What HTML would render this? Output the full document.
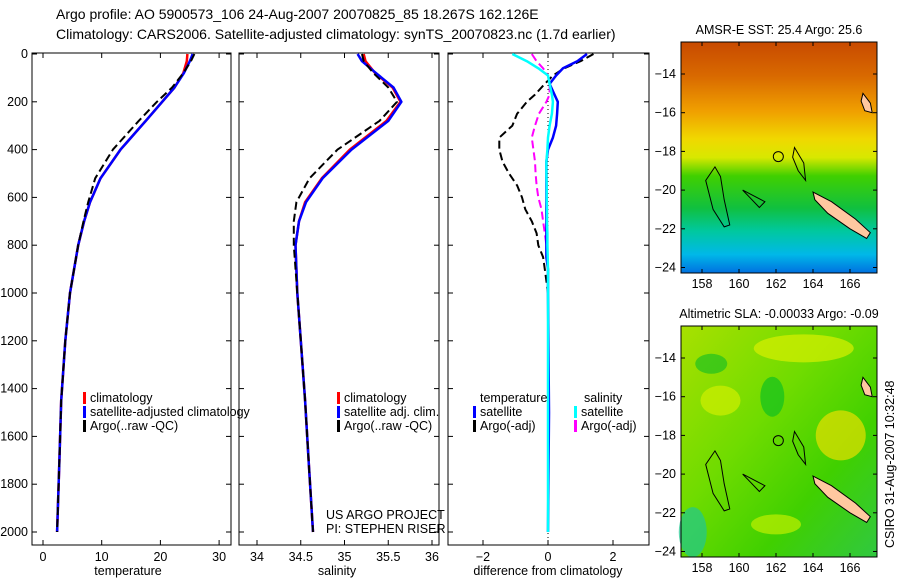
<!DOCTYPE html>
<html><head><meta charset="utf-8"><style>
html,body{margin:0;padding:0;background:#fff;}
svg{display:block;font-family:"Liberation Sans",sans-serif;}
text{font-size:12.5px;fill:#000;}
.ttl{font-size:14px;}
</style></head><body>
<svg id="fig" width="900" height="580" viewBox="0 0 900 580">
<defs>
<linearGradient id="sstg" x1="0" y1="0" x2="0" y2="1">
<stop offset="0" stop-color="#c84a00"/><stop offset="0.15" stop-color="#d96a00"/>
<stop offset="0.3" stop-color="#f0a000"/><stop offset="0.42" stop-color="#f0d800"/>
<stop offset="0.5" stop-color="#d8e800"/><stop offset="0.58" stop-color="#40d000"/>
<stop offset="0.72" stop-color="#10c040"/><stop offset="0.82" stop-color="#00c8a0"/>
<stop offset="0.92" stop-color="#00b8e8"/><stop offset="1" stop-color="#0070e0"/>
</linearGradient>
<linearGradient id="slag" x1="0" y1="0" x2="1" y2="1">
<stop offset="0" stop-color="#a8e000"/><stop offset="0.4" stop-color="#70dc00"/>
<stop offset="0.7" stop-color="#40d000"/><stop offset="1" stop-color="#30c840"/>
</linearGradient>
</defs>
<text class="ttl" x="56" y="19">Argo profile: AO 5900573_106 24-Aug-2007 20070825_85 18.267S 162.126E</text>
<text class="ttl" x="56" y="39">Climatology: CARS2006. Satellite-adjusted climatology: synTS_20070823.nc (1.7d earlier)</text>
<g id="p1"></g>
<g id="p2"></g>
<g id="p3"></g>
<g id="m1"></g>
<g id="m2"></g>
<text transform="translate(894,548) rotate(-90)">CSIRO 31-Aug-2007 10:32:48</text>
</svg>
<script>
// ---- data ----
const depthTicks = [0,200,400,600,800,1000,1200,1400,1600,1800,2000];
const tempTicks = [0,10,20,30];
const salTicks = [34,34.5,35,35.5,36];
const diffTicks = [-2,0,2];
const lonTicks = [158,160,162,164,166];
const latTicks = [-14,-16,-18,-20,-22,-24];

const profDepth = [0,30,80,140,200,280,400,520,620,700,800,1000,1200,1450,1700,2000];
const tempClim  = [24.6,24.5,23.9,22.4,20.3,17.5,13.2,9.8,8.0,7.0,6.0,4.6,3.8,3.1,2.8,2.4];
const tempSat   = [25.5,25.0,24.0,22.4,20.3,17.5,13.2,9.8,8.0,7.0,6.0,4.6,3.8,3.1,2.8,2.4];
const tempArgo  = [25.8,25.2,23.9,22.0,19.4,16.3,11.9,8.9,7.7,6.9,6.0,4.6,3.8,3.1,2.8,2.4];
const salClim   = [35.22,35.24,35.35,35.55,35.64,35.48,35.06,34.74,34.55,34.48,34.44,34.46,34.5,34.55,34.59,34.64];
const salSat    = [35.15,35.2,35.36,35.56,35.65,35.5,35.08,34.75,34.56,34.48,34.44,34.46,34.5,34.55,34.59,34.64];
const salArgo   = [35.2,35.22,35.33,35.5,35.6,35.4,34.92,34.6,34.45,34.42,34.42,34.46,34.5,34.55,34.59,34.64];

const diffDepth = [0,30,60,90,125,170,200,250,300,350,400,450,500,550,600,650,700,750,800,850,900,1000,1500,2000];
const dTempSat  = [1.2,0.9,0.46,0.25,0.05,0.2,0.3,0.28,0.25,0.15,0.0,-0.05,-0.05,-0.05,-0.05,-0.05,-0.05,-0.05,-0.05,-0.05,0,0,0.03,0];
const dTempArgo = [1.4,1.0,0.5,0.15,-0.1,-0.4,-0.65,-0.95,-1.1,-1.5,-1.5,-1.4,-1.2,-0.95,-0.8,-0.7,-0.5,-0.35,-0.3,-0.15,-0.1,0,0,0];
const dSalSat   = [-1.1,-0.65,-0.3,0,0.05,0.12,0.15,0.12,0.05,0,-0.02,-0.05,-0.05,-0.04,-0.04,-0.03,-0.03,-0.02,-0.02,-0.01,0,0,0,0];
const dSalArgo  = [-0.5,-0.35,-0.15,0,0.05,0.05,-0.05,-0.28,-0.4,-0.5,-0.45,-0.4,-0.38,-0.35,-0.3,-0.2,-0.15,-0.1,-0.05,0,0,0,0,0];

const NS='http://www.w3.org/2000/svg';
function mk(parent,tag,attrs){const e=document.createElementNS(NS,tag);for(const k in attrs)e.setAttribute(k,attrs[k]);parent.appendChild(e);return e;}
const Y0=54, DY=47.8/200;
function yD(d){return Y0+d*DY;}
const TOPY=53, BOTY=545;

function frame(g,x0,x1){
  const r=mk(g,'rect',{x:x0,y:TOPY,width:x1-x0,height:BOTY-TOPY,fill:'none',stroke:'#000','stroke-width':1});
  
  
}
function xticks(g,ticks,fx){
  ticks.forEach(t=>{const x=fx(t);
    mk(g,'line',{x1:x,x2:x,y1:BOTY,y2:BOTY-5,stroke:'#000'});
    mk(g,'line',{x1:x,x2:x,y1:TOPY,y2:TOPY+5,stroke:'#000'});
    const tx=mk(g,'text',{x:x,y:BOTY+16,'text-anchor':'middle'});tx.textContent=String(t).replace('-','\u2212');
    
    
  });
}
function yticks(g,x0,x1,labels){
  depthTicks.forEach(d=>{const y=yD(d);
    mk(g,'line',{x1:x0,x2:x0+5,y1:y,y2:y,stroke:'#000'});
    mk(g,'line',{x1:x1,x2:x1-5,y1:y,y2:y,stroke:'#000'});
    if(labels){const t=mk(g,'text',{x:x0-4,y:y+4,'text-anchor':'end'});t.textContent=d;
      
      }
  });
}
function line(g,vals,deps,fx,color,w,dash,name){
  const pts=vals.map((v,i)=>fx(v).toFixed(1)+','+yD(deps[i]).toFixed(1)).join(' ');
  const p=mk(g,'polyline',{points:pts,fill:'none',stroke:color,'stroke-width':w,'stroke-dasharray':dash||'none','stroke-linejoin':'round'});
  
  
}
function legend(g,x,y,color,label){
  mk(g,'rect',{x:x,y:y-10,width:3,height:12,fill:color});
  const t=mk(g,'text',{x:x+7,y:y});t.textContent=label;
  
  
}
function label(g,x,y,s,name,anchor){const t=mk(g,'text',{x:x,y:y,'text-anchor':anchor||'middle'});t.textContent=s;
  
  }

// Panel 1
const p1=document.getElementById('p1');
const fT=v=>43+v*5.87;
frame(p1,32,231);xticks(p1,tempTicks,fT);yticks(p1,32,231,true);
line(p1,tempClim,profDepth,fT,'#f00',2.5,null,'temp-climatology-line');
line(p1,tempSat,profDepth,fT,'#00f',2.5,null,'temp-satellite-line');
line(p1,tempArgo,profDepth,fT,'#000',2,'8,4','temp-argo-line');
label(p1,128,575,'temperature','x-axis-title');
legend(p1,83,402,'#f00','climatology');legend(p1,83,416,'#00f','satellite-adjusted climatology');legend(p1,83,430,'#000','Argo(..raw -QC)');

// Panel 2
const p2=document.getElementById('p2');
const fS=v=>257+(v-34)*87.5;
frame(p2,239,439);xticks(p2,salTicks,fS);yticks(p2,239,439,false);
line(p2,salClim,profDepth,fS,'#f00',2.5,null,'sal-climatology-line');
line(p2,salSat,profDepth,fS,'#00f',2.5,null,'sal-satellite-line');
line(p2,salArgo,profDepth,fS,'#000',2,'8,4','sal-argo-line');
label(p2,337,575,'salinity','x-axis-title');
legend(p2,337,402,'#f00','climatology');legend(p2,337,416,'#00f','satellite adj. clim.');legend(p2,337,430,'#000','Argo(..raw -QC)');
label(p2,326,519,'US ARGO PROJECT','project-label','start');label(p2,326,533,'PI: STEPHEN RISER','pi-label','start');

// Panel 3
const p3=document.getElementById('p3');
const fD=v=>548+v*32.5;
frame(p3,448,649);xticks(p3,diffTicks,fD);yticks(p3,448,649,false);
const z=mk(p3,'line',{x1:fD(0),x2:fD(0),y1:TOPY,y2:BOTY,stroke:'#000','stroke-dasharray':'1,3'});


line(p3,dTempArgo,diffDepth,fD,'#000',2,'8,4','dtemp-argo-line');
line(p3,dSalArgo,diffDepth,fD,'#f0f',2,'8,4','dsal-argo-line');
line(p3,dTempSat,diffDepth,fD,'#00f',2.5,null,'dtemp-satellite-line');
line(p3,dSalSat,diffDepth,fD,'#0ff',2.5,null,'dsal-satellite-line');
label(p3,548,575,'difference from climatology','x-axis-title');
label(p3,480,402,'temperature','legend-header-temp','start');label(p3,584,402,'salinity','legend-header-sal','start');
legend(p3,473,416,'#00f','satellite');legend(p3,473,430,'#000','Argo(-adj)');
legend(p3,574,416,'#0ff','satellite');legend(p3,574,430,'#f0f','Argo(-adj)');

// Maps
function map(id,x0,y0,y1,fill,title,blobs){
  const g=document.getElementById(id);const x1=877;
  const fx=lon=>702+(lon-158)*18.5;
  const fy=lat=>y0+32+(-14-lat)*19.35;
  mk(g,'rect',{x:x0,y:y0,width:x1-x0,height:y1-y0,fill:fill});
  blobs.forEach(b=>{const e=mk(g,'ellipse',{cx:fx(b[0]),cy:fy(b[1]),rx:b[2],ry:b[3],fill:b[4],opacity:0.7});
    
    });
  const nc=mk(g,'polygon',{points:[[164,-20.1],[165,-20.6],[166.3,-21.5],[167.1,-22.2],[166.9,-22.5],[166,-22],[164.8,-21.2],[164.1,-20.5]].map(p=>fx(p[0])+','+fy(p[1])).join(' '),fill:'#ffc8a0',stroke:'#000'});
  
  
  const isl=mk(g,'polygon',{points:[[166.7,-15],[167.1,-15.5],[167.2,-16],[166.8,-15.9],[166.6,-15.4]].map(p=>fx(p[0])+','+fy(p[1])).join(' '),fill:'#ffc8a0',stroke:'#000'});
  
  
  const reef=mk(g,'polygon',{points:[[158.7,-18.8],[159.0,-19.3],[159.2,-20.5],[159.5,-21.8],[159.2,-21.9],[158.6,-21],[158.2,-19.5]].map(p=>fx(p[0])+','+fy(p[1])).join(' '),fill:'none',stroke:'#000'});
  
  
  const reef2=mk(g,'polygon',{points:[[163,-17.8],[163.5,-18.6],[163.6,-19.5],[163.2,-19],[162.9,-18.3]].map(p=>fx(p[0])+','+fy(p[1])).join(' '),fill:'none',stroke:'#000'});
  
  
  const reef3=mk(g,'polygon',{points:[[160.2,-20],[161,-20.4],[161.4,-20.6],[161.1,-20.9],[160.6,-20.4]].map(p=>fx(p[0])+','+fy(p[1])).join(' '),fill:'none',stroke:'#000'});
  
  
  const c=mk(g,'circle',{cx:fx(162.126),cy:fy(-18.267),r:5,fill:'none',stroke:'#000'});
  
  
  const fr=mk(g,'rect',{x:x0,y:y0,width:x1-x0,height:y1-y0,fill:'none',stroke:'#000'});
  
  
  lonTicks.forEach(l=>{const x=fx(l);mk(g,'line',{x1:x,x2:x,y1:y1,y2:y1-4,stroke:'#000'});mk(g,'line',{x1:x,x2:x,y1:y0,y2:y0+4,stroke:'#000'});
    const t=mk(g,'text',{x:x,y:y1+15,'text-anchor':'middle'});t.textContent=l;
    
    });
  latTicks.forEach(l=>{const y=fy(l);mk(g,'line',{x1:x0,x2:x0+4,y1:y,y2:y,stroke:'#000'});mk(g,'line',{x1:x1,x2:x1-4,y1:y,y2:y,stroke:'#000'});
    const t=mk(g,'text',{x:x0-5,y:y+4,'text-anchor':'end'});t.textContent=String(l).replace('-','\u2212');
    
    });
  const tt=mk(g,'text',{x:(x0+x1)/2,y:y0-8,'text-anchor':'middle'});tt.textContent=title;
  
  
}
map('m1',681,42,273,'url(#sstg)','AMSR-E SST: 25.4 Argo: 25.6',[]);
map('m2',681,326,557,'url(#slag)','Altimetric SLA: -0.00033 Argo: -0.09',
 [[163.5,-13.5,50,14,'#d8f000'],[159,-16.2,20,15,'#d0f000'],[165.5,-18,25,25,'#e8e000'],[161.8,-16,12,20,'#10c020'],[162,-22.6,25,10,'#c0f000'],[157.5,-23,14,25,'#20c890'],[158.5,-14.3,16,10,'#20c020']]);
</script>
</body></html>
